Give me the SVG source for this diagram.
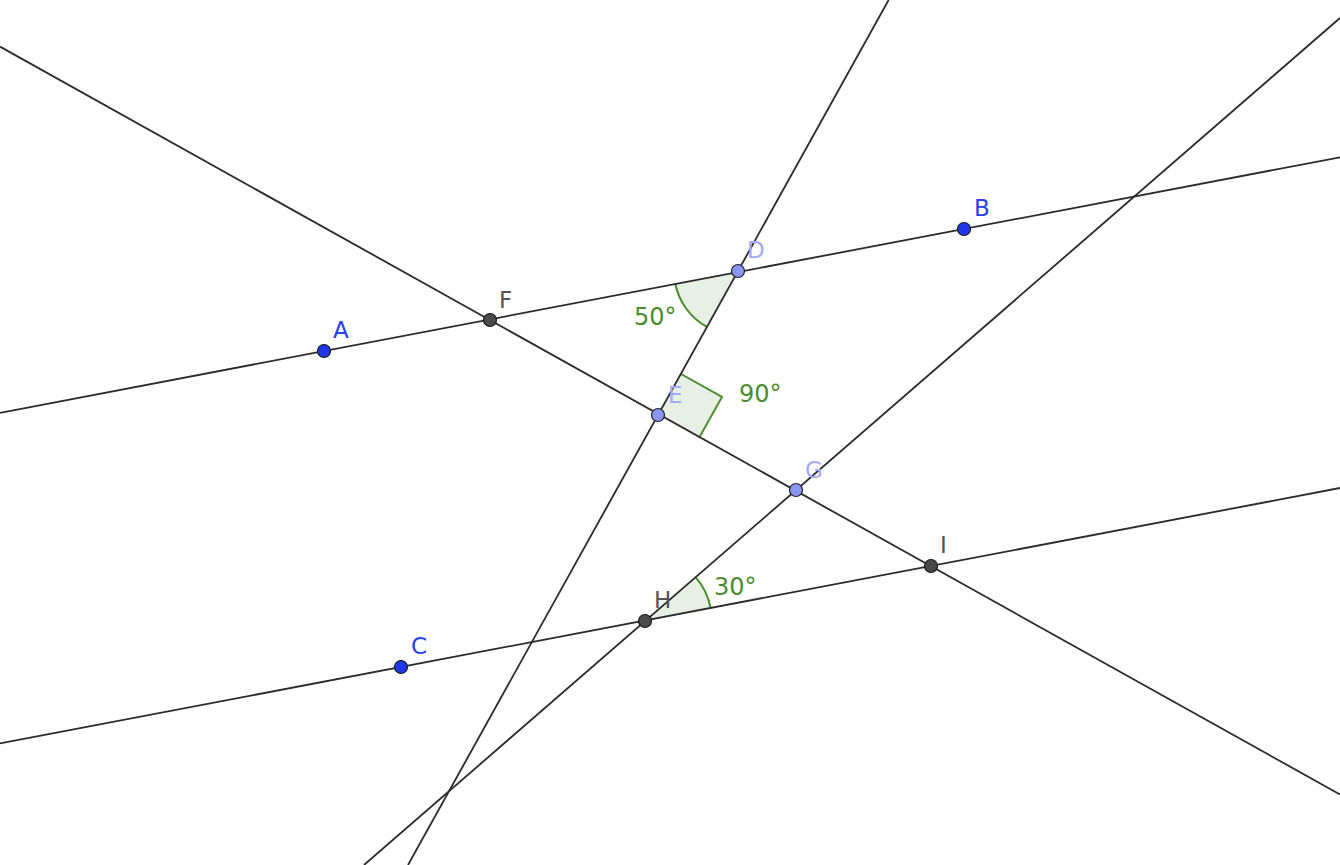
<svg xmlns="http://www.w3.org/2000/svg" width="1340" height="865" viewBox="0 0 1340 865">
<style>
.ln{stroke:#2b2b2b;stroke-width:1.8;fill:none}
.fill{fill:#e8efe4;stroke:none}
.arc{fill:none;stroke:#4b8c30;stroke-width:2}
.ang{font-family:"DejaVu Sans",sans-serif;font-size:24px;fill:#4b8c30}
.lbl{font-family:"DejaVu Sans",sans-serif;font-size:23px}
.free{fill:#1f37e8;stroke:#1a1a1a;stroke-width:1.2}
.free-t{fill:#2a40ea}
.dep{fill:#8a94f4;stroke:#222;stroke-width:1.2}
.dep-t{fill:#a3aaf7}
.int{fill:#4a4a4a;stroke:#1a1a1a;stroke-width:1.2}
.int-t{fill:#555}
</style>
<rect width="1340" height="865" fill="#fff"/>
<g id="angles">
<g id="angle-D">
<path class="fill" d="M738,271 L675.1,283 A64,64 0 0 0 706.9,326.9 Z"/>
<path class="arc" d="M675.1,283 A64,64 0 0 0 706.9,326.9"/>
<text class="ang" x="634" y="325">50°</text>
</g>
<g id="angle-E">
<path class="fill" d="M658,415 L681,374 L722,397 L699,438 Z"/>
<path class="arc" d="M681,374 L722,397 L699,438"/>
<text class="ang" x="739" y="402">90°</text>
</g>
<g id="angle-H">
<path class="fill" d="M645,621 L710.8,608.5 A67,67 0 0 0 695.6,577.1 Z"/>
<path class="arc" d="M710.8,608.5 A67,67 0 0 0 695.6,577.1"/>
<text class="ang" x="714" y="595">30°</text>
</g>
</g>
<g id="connectors">
<line class="ln" x1="0" y1="412.8" x2="1340" y2="157.3"/>
<line class="ln" x1="0" y1="743.4" x2="1340" y2="488"/>
<line class="ln" x1="0" y1="46.6" x2="1340" y2="794.5"/>
<line class="ln" x1="888.6" y1="0" x2="408" y2="865"/>
<line class="ln" x1="364" y1="865" x2="1340" y2="18"/>
</g>
<g id="A"><circle class="free" cx="324" cy="351" r="6.5"/><text class="lbl free-t" x="333" y="338">A</text></g>
<g id="B"><circle class="free" cx="964" cy="229" r="6.5"/><text class="lbl free-t" x="974" y="216">B</text></g>
<g id="C"><circle class="free" cx="401" cy="667" r="6.5"/><text class="lbl free-t" x="411" y="654">C</text></g>
<g id="D"><circle class="dep" cx="738" cy="271" r="6.5"/><text class="lbl dep-t" x="747" y="258">D</text></g>
<g id="E"><circle class="dep" cx="658" cy="415" r="6.5"/><text class="lbl dep-t" x="668" y="403">E</text></g>
<g id="G"><circle class="dep" cx="796" cy="490" r="6.5"/><text class="lbl dep-t" x="805" y="478">G</text></g>
<g id="F"><circle class="int" cx="490" cy="320" r="6.5"/><text class="lbl int-t" x="499" y="308">F</text></g>
<g id="H"><circle class="int" cx="645" cy="621" r="6.5"/><text class="lbl int-t" x="654" y="608">H</text></g>
<g id="I"><circle class="int" cx="931" cy="566" r="6.5"/><text class="lbl int-t" x="940" y="553">I</text></g>
</svg>
